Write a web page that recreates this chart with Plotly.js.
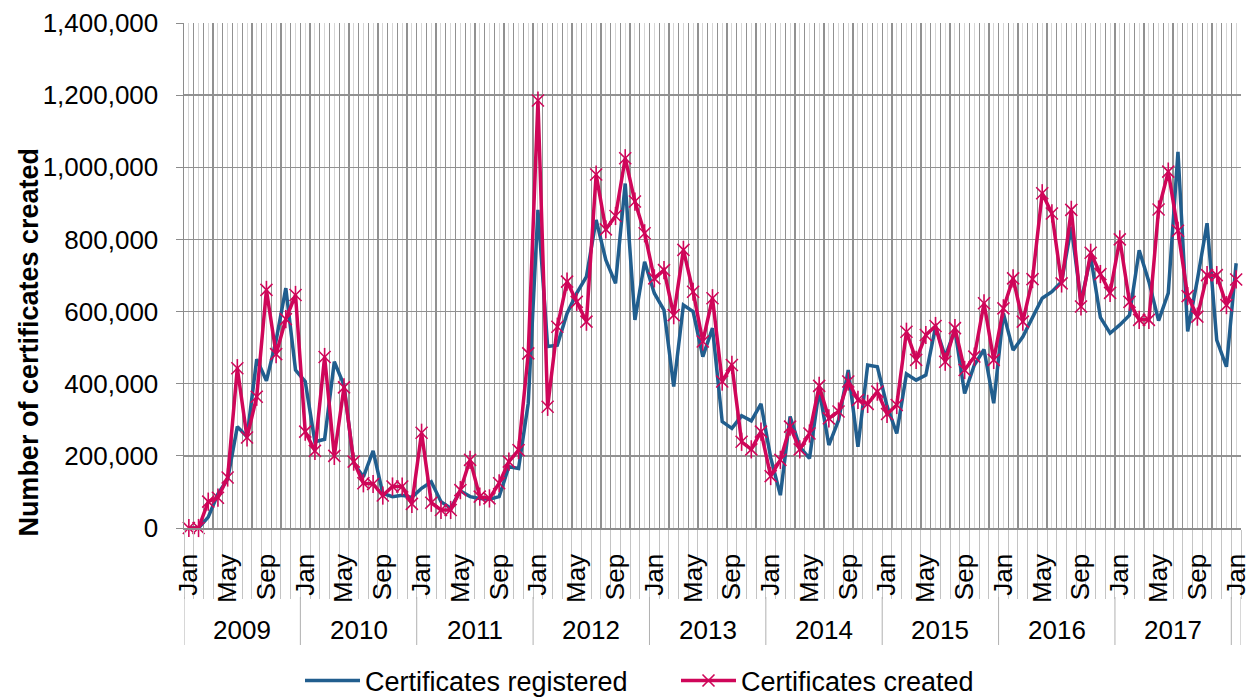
<!DOCTYPE html>
<html>
<head>
<meta charset="utf-8">
<script src="https://cdn.plot.ly/plotly-3.0.1.min.js"></script>
<style>html,body{margin:0;padding:0;background:#fff;}#chart{width:1250px;height:698px;}</style>
</head>
<body>
<div id="chart"></div>
<script>
// ---- Data ----
const years = ["2009","2010","2011","2012","2013","2014","2015","2016","2017","2018"];
const monthNames = ["Jan","Feb","Mar","Apr","May","Jun","Jul","Aug","Sep","Oct","Nov","Dec"];
const shownMonths = ["Jan","May","Sep"];

// Certificates registered (Jan 2009 .. Jan 2018)
const registered = [
  0, 0, 30000, 95000, 135000, 281000, 253000, 468000, 408000, 520000, 665000, 438000,
  406000, 239000, 246000, 461000, 396000, 179000, 142000, 214000, 96000, 87000, 91000, 85000,
  110000, 128000, 73000, 55000, 103000, 87000, 82000, 80000, 87000, 170000, 165000, 346000,
  882000, 503000, 507000, 595000, 651000, 697000, 854000, 743000, 678000, 955000, 577000, 738000,
  651000, 604000, 392000, 618000, 600000, 475000, 554000, 295000, 276000, 311000, 297000, 344000,
  195000, 91000, 309000, 225000, 193000, 383000, 230000, 299000, 438000, 225000, 452000, 447000,
  338000, 262000, 427000, 410000, 424000, 558000, 475000, 549000, 373000, 452000, 495000, 346000,
  595000, 493000, 530000, 584000, 637000, 655000, 683000, 835000, 627000, 752000, 584000, 540000,
  563000, 590000, 770000, 683000, 575000, 651000, 1043000, 545000, 688000, 845000, 521000, 447000,
  734000
];

// Certificates created (Jan 2009 .. Jan 2018)
const created = [
  0, 0, 73000, 84000, 140000, 443000, 251000, 364000, 660000, 482000, 579000, 646000,
  267000, 214000, 474000, 200000, 390000, 184000, 124000, 122000, 90000, 115000, 115000, 67000,
  264000, 70000, 50000, 50000, 105000, 189000, 87000, 82000, 124000, 184000, 216000, 484000,
  1185000, 336000, 558000, 683000, 627000, 572000, 980000, 828000, 865000, 1025000, 905000, 817000,
  692000, 715000, 590000, 771000, 655000, 517000, 637000, 406000, 452000, 239000, 218000, 267000,
  144000, 189000, 281000, 218000, 262000, 394000, 304000, 323000, 406000, 355000, 344000, 378000,
  316000, 341000, 544000, 466000, 535000, 560000, 461000, 554000, 438000, 475000, 623000, 466000,
  609000, 692000, 572000, 690000, 928000, 872000, 678000, 882000, 614000, 763000, 704000, 652000,
  800000, 627000, 577000, 577000, 883000, 988000, 824000, 643000, 586000, 701000, 701000, 618000,
  689000
];

// ---- Categories (months) ----
const monthLabels = [];
const monthYears = [];
for (const y of years) {
  for (const m of monthNames) {
    if (monthLabels.length < registered.length) { monthLabels.push(m); monthYears.push(y); }
  }
}
const xIdx = monthLabels.map((_, i) => i);
const tickText = monthLabels.map(m => shownMonths.includes(m) ? m : "");

// Year groups (full years only get a label)
const yearGroups = years.map(y => {
  const idx = xIdx.filter(i => monthYears[i] === y);
  return { year: y, first: idx[0], last: idx[idx.length - 1], count: idx.length };
}).filter(g => g.count > 0);

const BLUE = "#215E8E";
const PINK = "#CF0659";
const FONT = "Liberation Sans, Arial, Helvetica, sans-serif";

const traces = [
  {
    x: xIdx, y: registered, type: "scatter", mode: "lines",
    name: "Certificates registered",
    line: { color: BLUE, width: 3.5 },
    cliponaxis: false
  },
  {
    x: xIdx, y: created, type: "scatter", mode: "lines+markers",
    name: "Certificates created",
    line: { color: PINK, width: 3.5 },
    marker: { symbol: "x-thin-open", size: 12, color: PINK, line: { color: PINK, width: 1.6 } },
    cliponaxis: false
  },
  {
    x: xIdx, y: created, type: "scatter", mode: "markers",
    showlegend: false, hoverinfo: "skip",
    marker: { symbol: "line-ns-open", size: 13, color: PINK, line: { color: PINK, width: 1.6 } },
    cliponaxis: false
  }
];

const PLOT_TOP = 23, PLOT_BOTTOM = 528, PLOT_H = PLOT_BOTTOM - PLOT_TOP;
const py = (pix) => (PLOT_BOTTOM - pix) / PLOT_H;

const annotations = yearGroups.filter(g => g.count === 12).map(g => ({
  xref: "x", yref: "paper",
  x: (g.first + g.last) / 2, y: py(630),
  text: g.year, showarrow: false,
  xanchor: "center", yanchor: "middle",
  font: { family: FONT, size: 26, color: "#000" }
}));
annotations.push({
  xref: "paper", yref: "paper", x: -0.147, y: py(342),
  xanchor: "center", yanchor: "middle",
  text: "<b>Number of certificates created</b>", textangle: -90, showarrow: false,
  font: { family: FONT, size: 27, color: "#000" }
});

const shapes = [];
yearGroups.forEach(g => {
  shapes.push({ type: "line", xref: "x", yref: "paper", x0: g.first - 0.5, x1: g.first - 0.5,
    y0: py(597), y1: py(645), line: { color: "#b0b0b0", width: 1 } });
});
shapes.push({ type: "line", xref: "x", yref: "paper",
  x0: xIdx.length - 0.5, x1: xIdx.length - 0.5, y0: py(597), y1: py(645),
  line: { color: "#b0b0b0", width: 1 } });

const layout = {
  width: 1250, height: 698,
  margin: { l: 184, r: 9, t: PLOT_TOP, b: 698 - PLOT_BOTTOM },
  paper_bgcolor: "#fff", plot_bgcolor: "#fff",
  font: { family: FONT, size: 26, color: "#000" },
  showlegend: true,
  xaxis: {
    range: [-0.5, xIdx.length - 0.5],
    tickmode: "array", tickvals: xIdx, ticktext: tickText,
    tickangle: -90, ticks: "", ticklabelstandoff: 14,
    ticklabeloverflow: "allow",
    showgrid: true, gridcolor: "#d6d6d6", gridwidth: 1,
    showline: true, linecolor: "#8c8c8c", linewidth: 1.5, zeroline: false,
    tickfont: { family: FONT, size: 26, color: "#000" },
    minor: {
      tickmode: "linear", tick0: -0.5, dtick: 1,
      showgrid: true, gridcolor: "#919191", gridwidth: 1.3,
      ticks: "outside", ticklen: 69, tickcolor: "#c4c4c4", tickwidth: 1
    }
  },
  yaxis: {
    range: [0, 1400000], tickmode: "linear", tick0: 0, dtick: 200000,
    tickformat: ",d",
    showgrid: true, gridcolor: "#919191", gridwidth: 1.3,
    ticks: "outside", ticklen: 7, tickcolor: "#8c8c8c",
    showline: true, linecolor: "#8c8c8c", linewidth: 1.5, zeroline: false,
    ticklabelstandoff: 12,
    tickfont: { family: FONT, size: 26, color: "#000" }
  },
  legend: {
    orientation: "h", xref: "container", yref: "container",
    x: 300 / 1250, xanchor: "left", y: 1 - 681 / 698, yanchor: "middle",
    itemwidth: 55,
    entrywidth: 306, entrywidthmode: "pixels",
    font: { family: FONT, size: 27, color: "#000" },
    bgcolor: "rgba(0,0,0,0)"
  },
  annotations: annotations,
  shapes: shapes
};

Plotly.newPlot("chart", traces, layout, { displayModeBar: false, staticPlot: true });
</script>
</body>
</html>
